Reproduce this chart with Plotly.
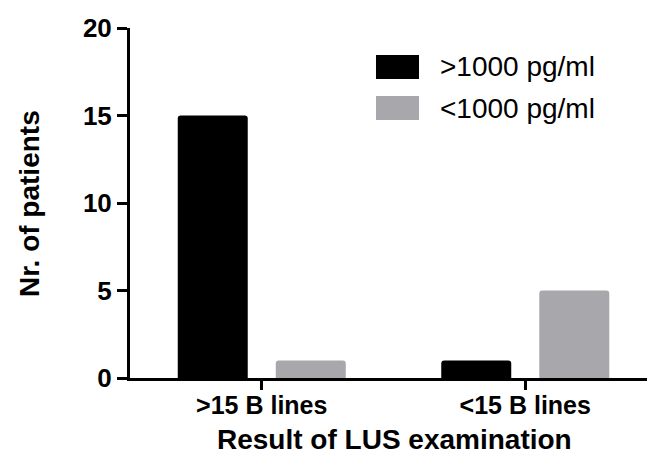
import plotly.graph_objects as go

categories = [">15 B lines", "<15 B lines"]
series_names = [">1000 pg/ml", "<1000 pg/ml"]
high_values = [15, 1]
low_values = [1, 5]
y_ticks = [0, 5, 10, 15, 20]

BLACK = "#000000"
GRAY = "#A8A7AC"
FONT = "Liberation Sans, Arial, Helvetica, sans-serif"

fig = go.Figure()
fig.add_trace(go.Bar(x=categories, y=high_values, name=series_names[0],
                     marker=dict(color=BLACK, line=dict(width=0))))
fig.add_trace(go.Bar(x=categories, y=low_values, name=series_names[1],
                     marker=dict(color=GRAY, line=dict(width=0))))

fig.update_layout(
    width=647, height=457,
    margin=dict(l=130, r=0, t=28, b=79),
    paper_bgcolor="white", plot_bgcolor="white",
    barmode="group", bargap=0.256, bargroupgap=0.286,
    barcornerradius=3,
    showlegend=False,
    font=dict(family=FONT, color="black"),
)
fig.update_xaxes(
    type="category", range=[-0.5, 1.462],
    showline=True, linecolor="black", linewidth=3,
    ticks="outside", ticklen=9, tickwidth=3, tickcolor="black",
    tickson="labels", ticklabelstandoff=-6,
    tickfont=dict(family=FONT, size=25, weight="bold", color="black"),
    showgrid=False, zeroline=False,
)
fig.update_yaxes(
    range=[0, 20], tickvals=y_ticks,
    showline=True, linecolor="black", linewidth=3,
    ticks="outside", ticklen=10, tickwidth=3, tickcolor="black",
    tickfont=dict(family=FONT, size=26, weight="bold", color="black"),
    showgrid=False, zeroline=False,
)

# axis titles
fig.add_annotation(text="Nr. of patients", xref="paper", yref="paper",
                   x=-0.1954, y=0.5, textangle=-90, showarrow=False,
                   xanchor="center", yanchor="middle",
                   font=dict(family=FONT, size=28, weight="bold", color="black"))
fig.add_annotation(text="Result of LUS examination", xref="paper", yref="paper",
                   x=0.511, y=-0.175, showarrow=False,
                   xanchor="center", yanchor="middle",
                   font=dict(family=FONT, size=28, weight="bold", color="black"))

# manual legend
legend_rows = [(series_names[0], BLACK, 0.854, 0.923, 0.8886),
               (series_names[1], GRAY, 0.737, 0.806, 0.7714)]
for name, col, y0, y1, ty in legend_rows:
    fig.add_shape(type="rect", xref="paper", yref="paper",
                  x0=0.4758, x1=0.559, y0=y0, y1=y1,
                  fillcolor=col, line=dict(width=0))
    fig.add_annotation(text=name, xref="paper", yref="paper",
                       x=0.5957, y=ty, showarrow=False,
                       xanchor="left", yanchor="middle",
                       font=dict(family=FONT, size=28, color="black"))

fig.write_html("out.html", config={"displayModeBar": False},
               post_script="document.body.style.margin='0';document.body.style.overflow='hidden';")
